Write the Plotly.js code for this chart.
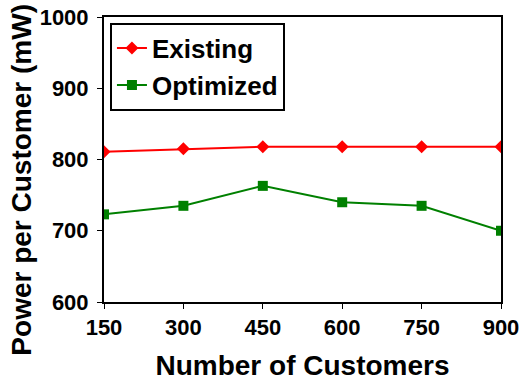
<!DOCTYPE html>
<html>
<head>
<script src="https://cdn.plot.ly/plotly-3.0.1.min.js"></script>
<style>body{margin:0;}#chart{width:520px;height:390px;}</style>
</head>
<body>
<div id="chart"></div>
<script>
var customers = [150, 300, 450, 600, 750, 900];
var existing = [811, 815, 818, 818, 818, 818];
var optimized = [723, 735, 763, 740, 735, 700];

var fnt = {family: "Liberation Sans, Arial, sans-serif", color: "#000", weight: 700};

var trace1 = {
    x: customers, y: existing, name: "Existing",
    mode: "lines+markers", type: "scatter",
    line: {color: "#ff0000", width: 2},
    marker: {symbol: "diamond", size: 10, color: "#ff0000"}
};
var trace2 = {
    x: customers, y: optimized, name: "Optimized",
    mode: "lines+markers", type: "scatter",
    line: {color: "#008000", width: 2},
    marker: {symbol: "square", size: 10, color: "#008000"}
};

var layout = {
    width: 520, height: 390,
    margin: {l: 104, r: 19, t: 17, b: 88},
    paper_bgcolor: "#fff", plot_bgcolor: "#fff",
    showlegend: true,
    legend: {x: 0.015, y: 0.98, xanchor: "left", yanchor: "top",
        bordercolor: "#000", borderwidth: 2, bgcolor: "#fff", itemwidth: 30,
        font: Object.assign({size: 26}, fnt), tracegroupgap: 0},
    xaxis: {
        range: [150, 900], tickvals: customers, showgrid: false, zeroline: false,
        showline: true, linecolor: "#000", linewidth: 2, mirror: true,
        ticks: "outside", ticklen: 5, tickwidth: 1, tickcolor: "#000",
        tickfont: Object.assign({size: 22}, fnt),
        title: {text: "Number of Customers", font: Object.assign({size: 28}, fnt), standoff: 16}
    },
    yaxis: {
        range: [600, 1000], tickvals: [600, 700, 800, 900, 1000], showgrid: false, zeroline: false,
        showline: true, linecolor: "#000", linewidth: 2, mirror: true,
        ticks: "outside", ticklen: 5, tickwidth: 1, tickcolor: "#000",
        ticklabelstandoff: 4,
        tickfont: Object.assign({size: 22}, fnt)
    },
    annotations: [{
        text: "Power per Customer (mW)", textangle: -90, showarrow: false,
        xref: "paper", yref: "paper", x: -0.21, y: 0.428,
        xanchor: "center", yanchor: "middle",
        font: Object.assign({size: 28}, fnt)
    }]
};

Plotly.newPlot("chart", [trace1, trace2], layout, {displayModeBar: false});
</script>
</body>
</html>
